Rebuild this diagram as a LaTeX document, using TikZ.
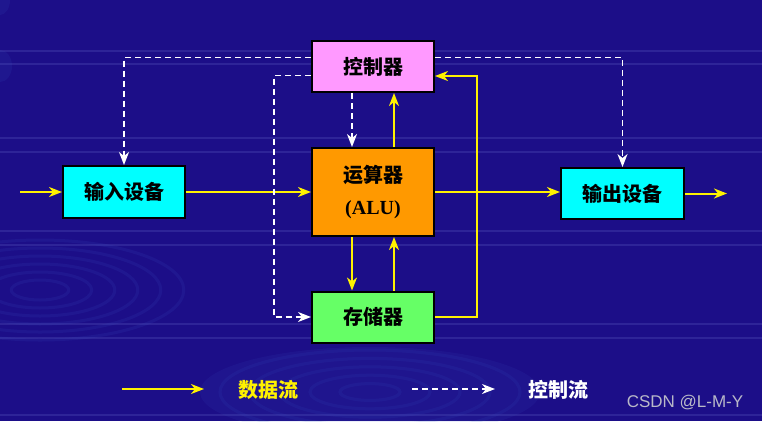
\documentclass[tikz,border=0pt]{standalone}
\usepackage{fontspec}
\setmainfont{Liberation Serif}
\setsansfont{Liberation Sans}
\newfontfamily\cjk{Noto Sans CJK SC}
\usetikzlibrary{arrows.meta}
\definecolor{bgblue}{RGB}{28,14,136}
\definecolor{bgline}{RGB}{46,36,152}
\definecolor{ripple}{RGB}{60,90,200}
\definecolor{ctrlpink}{RGB}{255,153,255}
\definecolor{aluorange}{RGB}{255,153,0}
\definecolor{memgreen}{RGB}{102,255,102}
\definecolor{iocyan}{RGB}{0,255,255}
\definecolor{wmgrey}{RGB}{185,185,200}
\begin{document}
\begin{tikzpicture}[x=1pt,y=-1pt,
  unit/.style={draw=black, line width=2pt, inner sep=0pt, font=\fontsize{20}{24}\selectfont\cjk\bfseries},
  data/.style={draw=yellow, line width=2pt, -{Stealth[length=13pt,width=10pt,inset=4pt]}},
  ctl/.style={draw=white, line width=1.5pt, dash pattern=on 6pt off 4pt, -{Stealth[length=13pt,width=10pt,inset=4pt]}},
  legend/.style={font=\fontsize{20}{24}\selectfont\cjk\bfseries}]
\useasboundingbox (0,0) rectangle (762,421);
% background
\fill[bgblue] (0,0) rectangle (762,421);
\begin{scope}
\clip (0,0) rectangle (762,421);
\foreach \yy in {51,64,138,152,231,245,324,338,415}
  \draw[bgline, line width=1.5pt] (0,\yy) -- (762,\yy);
\foreach \r in {25,45,65,85,105,125}
  \draw[ripple, line width=3pt, opacity=0.13] (40,290) ellipse ({\r*1.15} and {\r*0.4});
\foreach \r in {20,40,60,80,100}
  \draw[ripple, line width=3pt, opacity=0.11] (370,392) ellipse ({\r*1.5} and {\r*0.42});
\fill[ripple, opacity=0.1] (370,392) ellipse (170 and 45);
\fill[ripple, opacity=0.12] (0,66) ellipse (12 and 16);
\fill[ripple, opacity=0.12] (0,0) ellipse (10 and 15);
\end{scope}
% units
\node[unit, fill=ctrlpink, minimum width=122pt, minimum height=51pt] (ctrl) at (373,66.5) {控制器};
\node[unit, fill=aluorange, minimum width=122pt, minimum height=88pt, align=center] (alu) at (373,192)
  {运算器\\[8pt]{\rmfamily\bfseries (ALU)}};
\node[unit, fill=memgreen, minimum width=122pt, minimum height=51pt] (mem) at (373,317) {存储器};
\node[unit, fill=iocyan, minimum width=122pt, minimum height=52pt] (in) at (124,192) {输入设备};
\node[unit, fill=iocyan, minimum width=123pt, minimum height=51pt] (out) at (622.5,193.5) {输出设备};
% free ends
\coordinate (inL) at (20,192);
\coordinate (outR) at (727,193.5);
\coordinate (up) at (477,76);
\coordinate (dl) at (274,0);
% data flow
\draw[data] (inL) -- (in.west);
\draw[data] (in.east) -- (alu.west);
\draw[data] (alu.east) -- (alu.east -| out.west);
\draw[data] (out.east) -- (outR);
\draw[data] ([xshift=21pt]alu.north) -- ([xshift=21pt]ctrl.south);
\draw[data] ([xshift=-21pt]alu.south) -- ([xshift=-21pt]mem.north);
\draw[data] ([xshift=21pt]mem.north) -- ([xshift=21pt]alu.south);
\draw[data] (mem.east) -| (up) -- (up -| ctrl.east);
% control flow
\draw[ctl] ([yshift=9pt]ctrl.west) -| (in.north);
\draw[ctl] ([yshift=9pt]ctrl.east) -| (out.north);
\draw[ctl] ([xshift=-21pt]ctrl.south) -- ([xshift=-21pt]alu.north);
\draw[ctl] ([yshift=-9pt]ctrl.west) -| (dl |- mem.west) -- (mem.west);
% legend
\coordinate (l1) at (122,389);
\coordinate (l2) at (204,389);
\coordinate (l3) at (412,389);
\coordinate (l4) at (495,389);
\draw[data] (l1) -- (l2);
\node[legend, text=yellow] (ldata) at (268,390) {数据流};
\draw[ctl] (l3) -- (l4);
\node[legend, text=white] (lctl) at (558,390) {控制流};
\node[font=\sffamily\fontsize{17}{20}\selectfont, text=wmgrey] (wm) at (685,403) {CSDN @L-M-Y};
\end{tikzpicture}
\end{document}
